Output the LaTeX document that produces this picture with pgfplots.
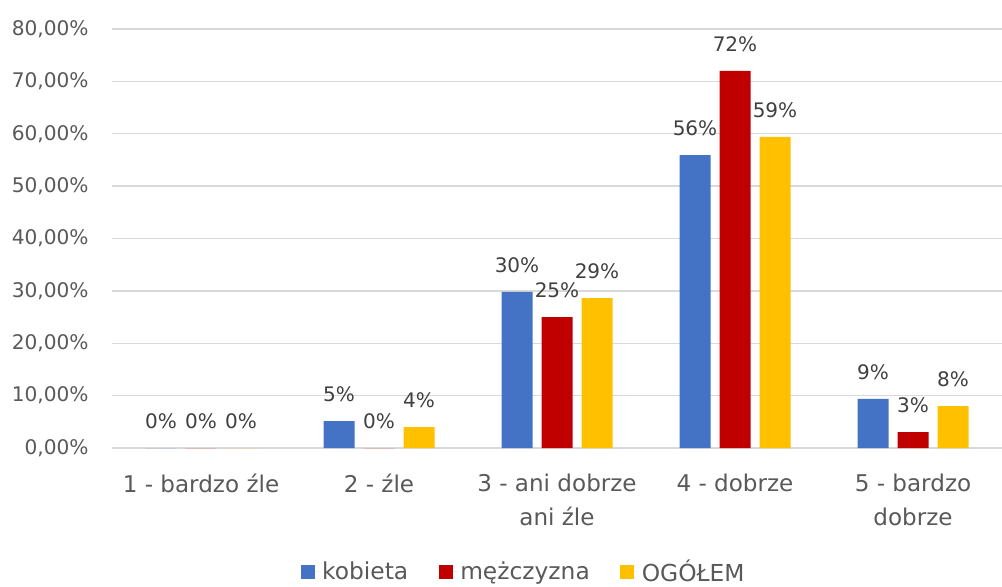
\documentclass[border=0pt]{standalone}
\usepackage{pgfplots}
\pgfplotsset{compat=1.18}
\usepackage{fontspec}
\setmainfont{DejaVu Sans}
\definecolor{cblue}{HTML}{4472C4}
\definecolor{cred}{HTML}{C00000}
\definecolor{cyel}{HTML}{FFC000}
\definecolor{txt}{HTML}{595959}
\definecolor{lbl}{HTML}{404040}
\definecolor{gridc}{HTML}{D9D9D9}
\begin{document}
\begin{tikzpicture}
\begin{axis}[
  at={(0pt,0pt)}, anchor=south west,
  scale only axis, width=667.5pt, height=314.25pt,
  ybar=6.75pt, bar width=23.25pt,
  xmin=-0.5, xmax=4.5, ymin=0, ymax=80,
  ytick={0,10,...,80},
  xtick={0,...,4},
  xticklabels={1 - bardzo źle, 2 - źle, {3 - ani dobrze\\ani źle}, 4 - dobrze, {5 - bardzo\\dobrze}},
  /pgf/number format/assume math mode=true,
  xticklabel style={align=center, font=\fontsize{17.3}{25.5}\selectfont, text=txt, anchor=north, yshift=-16pt},
  yticklabel={\pgfmathprintnumber[fixed,fixed zerofill,precision=2,use comma]{\tick}\%},
  yticklabel style={font=\fontsize{15.1}{17}\selectfont, text=txt, anchor=east, xshift=-14pt},
  major tick length=0pt,
  axis line style={draw=none},
  ymajorgrids, major grid style={draw=gridc, line width=1.1pt},
  nodes near coords={\pgfmathprintnumber[fixed,precision=0]{\pgfplotspointmeta}\%},
  nodes near coords style={font=\fontsize{15}{17}\selectfont, text=lbl, anchor=south, yshift=11pt},
  legend image code/.code={\fill[#1] (0pt,-5.25pt) rectangle (10.5pt,5.25pt); \path (10.5pt,0pt) -- (14pt,0pt);},
  legend style={at={(0.463,-0.295)}, anchor=center, draw=none, fill=none,
    legend columns=3, font=\fontsize{17.5}{19}\selectfont, text=txt,
    /tikz/every even column/.append style={column sep=21pt}},
  legend cell align=left,
]
\addplot[fill=cblue, draw=none] coordinates {(0,0) (1,5.15) (2,29.8) (3,55.9) (4,9.36)};
\addplot[fill=cred, draw=none] coordinates {(0,0) (1,0) (2,25.0) (3,72.0) (4,3.05)};
\addplot[fill=cyel, draw=none] coordinates {(0,0) (1,4.0) (2,28.6) (3,59.4) (4,8.0)};
\legend{kobieta, mężczyzna, OGÓŁEM}
\end{axis}
\pgfresetboundingbox
\path (-84pt,-103.5pt) rectangle (667.5pt,336pt);
\end{tikzpicture}
\end{document}
